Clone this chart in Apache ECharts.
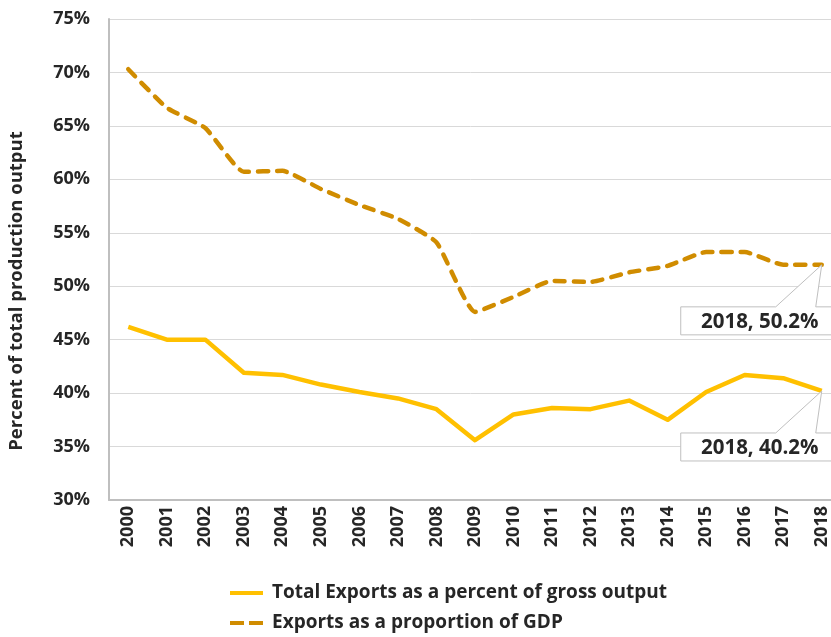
<!DOCTYPE html>
<html>
<head>
<meta charset="utf-8">
<script src="https://cdn.jsdelivr.net/npm/echarts@6/dist/echarts.min.js"></script>
<style>
html,body{margin:0;padding:0;background:#fff;}
#c{width:831px;height:637px;}
</style>
</head>
<body>
<div id="c"></div>
<script>
const years = ['2000','2001','2002','2003','2004','2005','2006','2007','2008','2009','2010','2011','2012','2013','2014','2015','2016','2017','2018'];
const grossOutputPct = [46.2,45.0,45.0,41.9,41.7,40.8,40.1,39.5,38.5,35.6,38.0,38.6,38.5,39.3,37.5,40.1,41.7,41.4,40.2];
const gdpPct = [70.3,66.7,64.8,60.7,60.8,59.1,57.6,56.3,54.1,47.6,49.0,50.5,50.4,51.3,51.9,53.2,53.2,52.0,52.0];
const seriesNames = ['Total Exports as a percent of gross output','Exports as a proportion of GDP'];
const calloutLabels = ['2018, 40.2%','2018, 50.2%'];
const yTitle = 'Percent of total production output';

const FONT = '"Open Sans"';
const TXT = '#262626';
const legendText = {fontFamily:FONT, fontSize:19, fontWeight:'bold', color:TXT, lineHeight:20, padding:[0,0,0,4]};
const chart = echarts.init(document.getElementById('c'));
chart.setOption({
  backgroundColor:'#fff',
  animation:false,
  grid:{left:109, top:19, width:732, height:481, containLabel:false, outerBoundsMode:'none'},
  legend:[
    {left:230, top:583, padding:0, itemWidth:33, itemHeight:5, textStyle:legendText,
     data:[{name:seriesNames[0], icon:'path://M0,0H33V4H0Z'}]},
    {left:230, top:613, padding:0, itemWidth:33, itemHeight:5, textStyle:legendText,
     data:[{name:seriesNames[1], icon:'path://M0,0H14V4H0Z M19,0H33V4H19Z'}]}
  ],
  xAxis:{
    type:'category', data:years, boundaryGap:true,
    axisTick:{show:false},
    axisLine:{lineStyle:{color:'#BFBFBF', width:2}},
    axisLabel:{rotate:90, margin:6, fontFamily:FONT, fontSize:18, fontWeight:'bold', color:TXT}
  },
  yAxis:{
    type:'value', min:30, max:75, interval:5,
    axisLine:{show:true, lineStyle:{color:'#BFBFBF', width:2}},
    axisTick:{show:false},
    splitLine:{lineStyle:{color:'#D9D9D9', width:1}},
    axisLabel:{formatter:'{value}%', margin:19, fontFamily:FONT, fontSize:18, fontWeight:'bold', color:TXT}
  },
  series:[
    {name:seriesNames[0], type:'line', data:grossOutputPct, showSymbol:false, symbol:'none',
     itemStyle:{color:'#FFC000'},
     lineStyle:{color:'#FFC000', width:4.5, join:'round'}},
    {name:seriesNames[1], type:'line', data:gdpPct, showSymbol:false, symbol:'none', smooth:0.15,
     itemStyle:{color:'#D08C00'},
     lineStyle:{color:'#D08C00', width:4.5, type:[10,9], cap:'round', join:'round'}}
  ]
});

function callout(pt, text){
  const px = pt[0], py = pt[1];
  const L = px-141, R = px+21, T = py+42, B = T+28;
  return [
    {type:'polygon', z:100,
     shape:{points:[[L,T],[px-46,T],[px,py],[px-6,T],[R,T],[R,B],[L,B]]},
     style:{fill:'#fff', stroke:'#BFBFBF', lineWidth:1}},
    {type:'text', z:101, x:(L+R)/2 - 2, y:(T+B)/2 + 1,
     style:{text:text, fontFamily:FONT, fontSize:20.5, fontWeight:'bold', fill:TXT, align:'center', verticalAlign:'middle'}}
  ];
}
const last = years.length-1;
const p1 = chart.convertToPixel({xAxisIndex:0, yAxisIndex:0}, [years[last], grossOutputPct[last]]);
const p2 = chart.convertToPixel({xAxisIndex:0, yAxisIndex:0}, [years[last], gdpPct[last]]);
chart.setOption({graphic:[
  {type:'text', x:7, y:291, rotation:Math.PI/2,
   style:{text:yTitle, fontFamily:FONT, fontSize:18.5, fontWeight:'bold', fill:TXT, align:'center', verticalAlign:'top'}},
  ...callout(p1, calloutLabels[0]),
  ...callout(p2, calloutLabels[1])
]});
</script>
</body>
</html>
